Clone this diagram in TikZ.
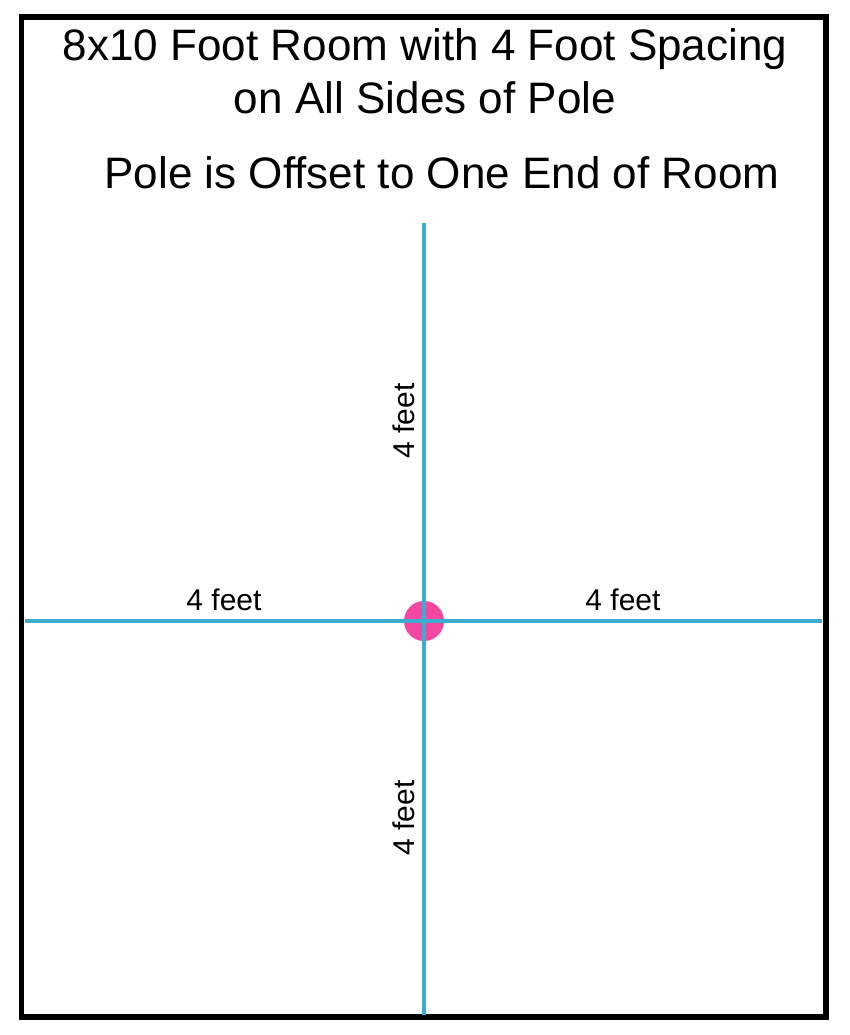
\documentclass[tikz,border=0pt]{standalone}
\usepackage{fontspec}
\setmainfont{Liberation Sans}
\definecolor{polepink}{RGB}{245,70,160}
\definecolor{linecyan}{RGB}{60,172,208}
\tikzset{
  title/.style={font=\fontsize{37.6}{45}\selectfont, anchor=base, inner sep=0pt},
  dist/.style={font=\fontsize{25.6}{30}\selectfont, inner sep=0pt},
  measure/.style={draw=linecyan, line width=2.6pt}
}
\begin{document}
\begin{tikzpicture}[x=0.03cm,y=-0.03cm]
  \useasboundingbox (0,0) rectangle (850,1035);
  \draw[line width=5.1pt] (21.5,17) rectangle (826,1017);
  \node[title] (line1) at (425,60) {8x10 Foot Room with 4 Foot Spacing};
  \node[title] (line2) at (425,113) {on All Sides of Pole};
  \node[title] (line3) at (442,188) {Pole is Offset to One End of Room};
  \node[circle, fill=polepink, minimum size=1.2cm, inner sep=0pt] (pole) at (424,621) {};
  \coordinate (top) at (424,223);
  \coordinate (bottom) at (424,1015);
  \coordinate (left) at (25,621);
  \coordinate (right) at (822,621);
  \draw[measure] (top) -- (pole.center) -- (bottom);
  \draw[measure] (left) -- (pole.center) -- (right);
  \node[dist, anchor=base] (leftlabel) at (224,610) {4 feet};
  \node[dist, anchor=base] (rightlabel) at (623,610) {4 feet};
  \node[dist, rotate=90] (toplabel) at (404,421) {4 feet};
  \node[dist, rotate=90] (bottomlabel) at (404,818) {4 feet};
\end{tikzpicture}
\end{document}
